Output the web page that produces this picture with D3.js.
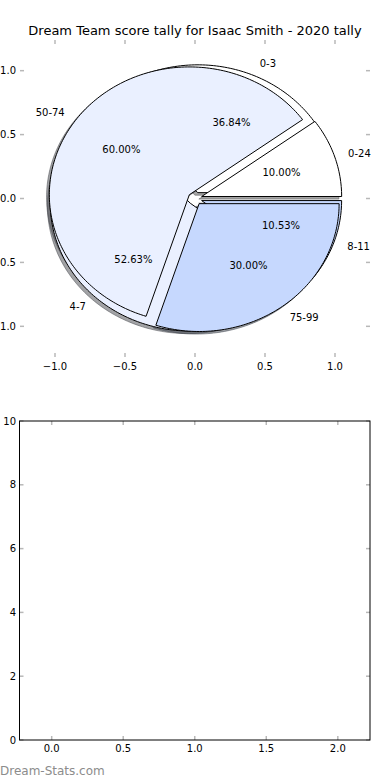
<!DOCTYPE html>
<html lang="en">
<head>
<meta charset="UTF-8">
<title>Dream Team score tally</title>
<style>
    body { margin: 0; background: #fff; }
    text { font-family: "DejaVu Sans", sans-serif; }
</style>
</head>
<body>
<script src="https://cdnjs.cloudflare.com/ajax/libs/d3/7.8.5/d3.min.js"></script>
<script>
    // data
    var titleText = "Dream Team score tally for Isaac Smith - 2020 tally";
    var outerLabels = ["0-24", "50-74", "75-99"];
    var outerCounts = [1, 6, 3];
    var innerLabels = ["0-3", "4-7", "8-11"];
    var innerCounts = [7, 10, 2];
    var sliceColors = ["#ffffff", "#eaf0ff", "#c6d8fe"];
    var pieTicks = [-1.0, -0.5, 0.0, 0.5, 1.0];
    var barXTicks = [0.0, 0.5, 1.0, 1.5, 2.0];
    var barYTicks = [0, 2, 4, 6, 8, 10];

    var w = 390, h = 780;
    var explode = 0.05;

    var svg = d3.select("body").append("svg")
        .attr("width", w)
        .attr("height", h);

    // pie axes (elliptical because aspect isn't equal)
    var px = d3.scaleLinear().domain([-1.25, 1.25]).range([20, 370]);
    var py = d3.scaleLinear().domain([-1.24, 1.24]).range([357, 40]);

    var pie = d3.pie().sort(null).value(function(d) { return d; })
        .startAngle(0).endAngle(2 * Math.PI);

    function wedgePath(d, ox, oy) {
        var n = Math.max(8, Math.ceil((d.endAngle - d.startAngle) / 0.02));
        var pts = [[ox, oy]];
        for (var i = 0; i <= n; i++) {
            var t = d.startAngle + (d.endAngle - d.startAngle) * i / n;
            pts.push([ox + Math.cos(t), oy + Math.sin(t)]);
        }
        return d3.line().x(function(p) { return px(p[0]); })
            .y(function(p) { return py(p[1]); })(pts) + "Z";
    }

    function buildSlices(counts, labels) {
        return pie(counts).map(function(d, i) {
            var mid = (d.startAngle + d.endAngle) / 2;
            d.mid = mid;
            d.ox = explode * Math.cos(mid);
            d.oy = explode * Math.sin(mid);
            d.label = labels[i];
            d.color = sliceColors[i];
            d.frac = (d.endAngle - d.startAngle) / (2 * Math.PI);
            return d;
        });
    }

    var inner = buildSlices(innerCounts, innerLabels);
    var outer = buildSlices(outerCounts, outerLabels);

    function shadowColor(c) {
        var r = d3.rgb(c);
        return d3.rgb(r.r * 0.3, r.g * 0.3, r.b * 0.3).toString();
    }

    // shadows sit below every wedge
    var shadows = svg.append("g");
    [inner, outer].forEach(function(slices) {
        shadows.selectAll(null)
            .data(slices)
            .enter()
            .append("path")
            .attr("d", function(d) { return wedgePath(d, d.ox - 0.02, d.oy - 0.02); })
            .attr("fill", function(d) { return shadowColor(d.color); })
            .attr("fill-opacity", 0.5)
            .attr("stroke", function(d) { return shadowColor(d.color); })
            .attr("stroke-opacity", 0.5)
            .attr("stroke-width", 1);
    });

    [inner, outer].forEach(function(slices) {
        svg.append("g").selectAll("path")
            .data(slices)
            .enter()
            .append("path")
            .attr("d", function(d) { return wedgePath(d, d.ox, d.oy); })
            .attr("fill", function(d) { return d.color; })
            .attr("stroke", "#000")
            .attr("stroke-width", 1)
            .attr("stroke-linejoin", "miter");
    });

    // labels and percentages
    [inner, outer].forEach(function(slices) {
        var g = svg.append("g").attr("font-size", "10px").attr("fill", "#000");
        g.selectAll(".lbl")
            .data(slices)
            .enter()
            .append("text")
            .attr("class", "lbl")
            .attr("x", function(d) { return px(d.ox + 1.1 * Math.cos(d.mid)); })
            .attr("y", function(d) { return py(d.oy + 1.1 * Math.sin(d.mid)); })
            .attr("dy", "0.35em")
            .attr("text-anchor", function(d) { return Math.cos(d.mid) > 0 ? "start" : "end"; })
            .text(function(d) { return d.label; });
        g.selectAll(".pct")
            .data(slices)
            .enter()
            .append("text")
            .attr("class", "pct")
            .attr("x", function(d) { return px(d.ox + 0.6 * Math.cos(d.mid)); })
            .attr("y", function(d) { return py(d.oy + 0.6 * Math.sin(d.mid)); })
            .attr("dy", "0.35em")
            .attr("text-anchor", "middle")
            .text(function(d) { return (d.frac * 100).toFixed(2) + "%"; });
    });

    // title
    svg.append("text")
        .attr("x", 195)
        .attr("y", 35)
        .attr("text-anchor", "middle")
        .attr("font-size", "13px")
        .text(titleText);

    var tickColor = "#b8b8b8";
    var fmt = function(v) { return d3.format(".1f")(v).replace("-", "\u2212"); };

    // pie axes ticks, no spines
    var pt = svg.append("g").attr("stroke", tickColor).attr("stroke-width", 1.5);
    pieTicks.forEach(function(v) {
        pt.append("line").attr("x1", px(v)).attr("x2", px(v)).attr("y1", 40).attr("y2", 44);
        pt.append("line").attr("x1", px(v)).attr("x2", px(v)).attr("y1", 357).attr("y2", 353);
        pt.append("line").attr("y1", py(v)).attr("y2", py(v)).attr("x1", 20).attr("x2", 24);
        pt.append("line").attr("y1", py(v)).attr("y2", py(v)).attr("x1", 370).attr("x2", 366);
    });
    svg.append("g").attr("font-size", "10px").selectAll("text")
        .data(pieTicks).enter().append("text")
        .attr("x", function(d) { return px(d); })
        .attr("y", 370)
        .attr("text-anchor", "middle")
        .text(fmt);
    svg.append("g").attr("font-size", "10px").selectAll("text")
        .data(pieTicks).enter().append("text")
        .attr("x", 16)
        .attr("y", function(d) { return py(d); })
        .attr("dy", "0.35em")
        .attr("text-anchor", "end")
        .text(fmt);

    // empty bar axes below
    var bx = d3.scaleLinear().domain([-0.225, 2.225]).range([19.5, 370]);
    var by = d3.scaleLinear().domain([0, 10]).range([740, 421]);

    var bt = svg.append("g").attr("stroke", tickColor).attr("stroke-width", 1.5);
    barXTicks.forEach(function(v) {
        bt.append("line").attr("x1", bx(v)).attr("x2", bx(v)).attr("y1", 421).attr("y2", 425);
        bt.append("line").attr("x1", bx(v)).attr("x2", bx(v)).attr("y1", 740).attr("y2", 736);
    });
    barYTicks.forEach(function(v) {
        bt.append("line").attr("y1", by(v)).attr("y2", by(v)).attr("x1", 19.5).attr("x2", 23.5);
        bt.append("line").attr("y1", by(v)).attr("y2", by(v)).attr("x1", 370).attr("x2", 366);
    });
    svg.append("rect")
        .attr("x", 19.5).attr("y", 421)
        .attr("width", 350.5).attr("height", 319)
        .attr("fill", "none")
        .attr("stroke", "#000")
        .attr("stroke-width", 1);

    svg.append("g").attr("font-size", "10px").selectAll("text")
        .data(barXTicks).enter().append("text")
        .attr("x", function(d) { return bx(d); })
        .attr("y", 752)
        .attr("text-anchor", "middle")
        .text(function(d) { return d.toFixed(1); });
    svg.append("g").attr("font-size", "10px").selectAll("text")
        .data(barYTicks).enter().append("text")
        .attr("x", 16)
        .attr("y", function(d) { return by(d); })
        .attr("dy", "0.35em")
        .attr("text-anchor", "end")
        .text(function(d) { return d; });

    // watermark
    svg.append("text")
        .attr("x", 0)
        .attr("y", 775)
        .attr("font-size", "12px")
        .attr("fill", "#8c8c8c")
        .text("Dream-Stats.com");
</script>
</body>
</html>
